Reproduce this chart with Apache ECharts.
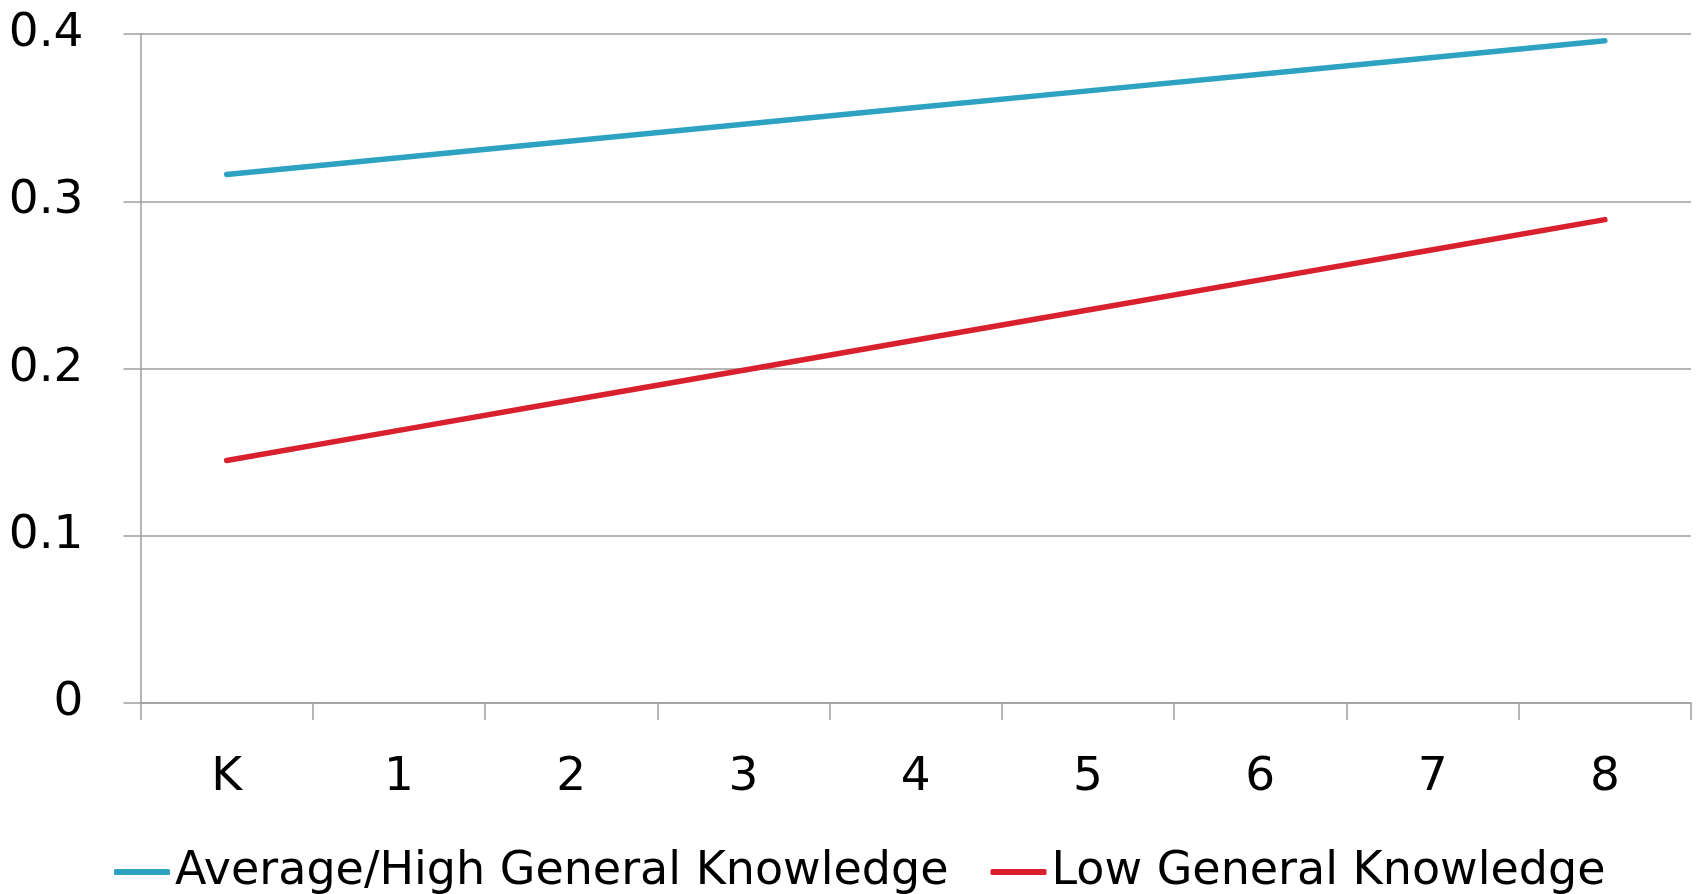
<!DOCTYPE html>
<html>
<head>
<meta charset="utf-8">
<title>General Knowledge by Grade</title>
<script src="https://cdn.jsdelivr.net/npm/echarts@6/dist/echarts.min.js"></script>
<style>
  html, body { margin: 0; padding: 0; background: #ffffff; }
  #chart { width: 1700px; height: 894px; }
</style>
</head>
<body>
<div id="chart"></div>
<script>
// Grade levels along the horizontal axis
const grades = ['K', '1', '2', '3', '4', '5', '6', '7', '8'];

// Series values per grade
const averageHighKnowledge = [0.316, 0.326, 0.336, 0.346, 0.356, 0.366, 0.376, 0.386, 0.396];
const lowKnowledge = [0.145, 0.163, 0.181, 0.199, 0.217, 0.235, 0.253, 0.271, 0.289];

const seriesNames = ['Average/High General Knowledge', 'Low General Knowledge'];
const seriesColors = ['#2ea3c1', '#d9202e'];

const FONT = 'DejaVu Sans';
const AXIS_GRAY = '#9e9e9e';

const chart = echarts.init(document.getElementById('chart'), null, { renderer: 'canvas' });

chart.setOption({
  animation: false,
  backgroundColor: '#ffffff',
  grid: { left: 140.5, right: 9, top: 34, bottom: 191, containLabel: false },
  legend: {
    left: 114,
    top: 849,
    padding: 0,
    itemGap: 42,
    itemWidth: 56,
    itemHeight: 6,
    icon: 'roundRect',
    textStyle: { fontFamily: FONT, fontSize: 46, color: '#000000' },
    data: seriesNames
  },
  xAxis: {
    type: 'category',
    data: grades,
    boundaryGap: true,
    axisLine: { show: true, lineStyle: { color: AXIS_GRAY, width: 1.5 } },
    axisTick: { show: true, length: 17, lineStyle: { color: AXIS_GRAY, width: 1.5 } },
    axisLabel: { fontFamily: FONT, fontSize: 47, color: '#000000', margin: 51 },
    splitLine: { show: false }
  },
  yAxis: {
    type: 'value',
    min: 0,
    max: 0.4,
    interval: 0.1,
    axisLine: { show: true, lineStyle: { color: AXIS_GRAY, width: 1.5 } },
    axisTick: { show: true, length: 17, lineStyle: { color: AXIS_GRAY, width: 1.5 } },
    axisLabel: {
      fontFamily: FONT, fontSize: 47, color: '#000000', margin: 57,
      padding: [0, 0, 14, 0],
      formatter: v => (v === 0 ? '0' : v.toFixed(1))
    },
    splitLine: { show: true, lineStyle: { color: AXIS_GRAY, width: 1.5 } }
  },
  series: [
    {
      name: seriesNames[0],
      type: 'line',
      data: averageHighKnowledge,
      showSymbol: false,
      symbol: 'none',
      color: seriesColors[0],
      lineStyle: { width: 5.5, color: seriesColors[0], cap: 'round' }
    },
    {
      name: seriesNames[1],
      type: 'line',
      data: lowKnowledge,
      showSymbol: false,
      symbol: 'none',
      color: seriesColors[1],
      lineStyle: { width: 5.5, color: seriesColors[1], cap: 'round' }
    }
  ]
});
</script>
</body>
</html>
